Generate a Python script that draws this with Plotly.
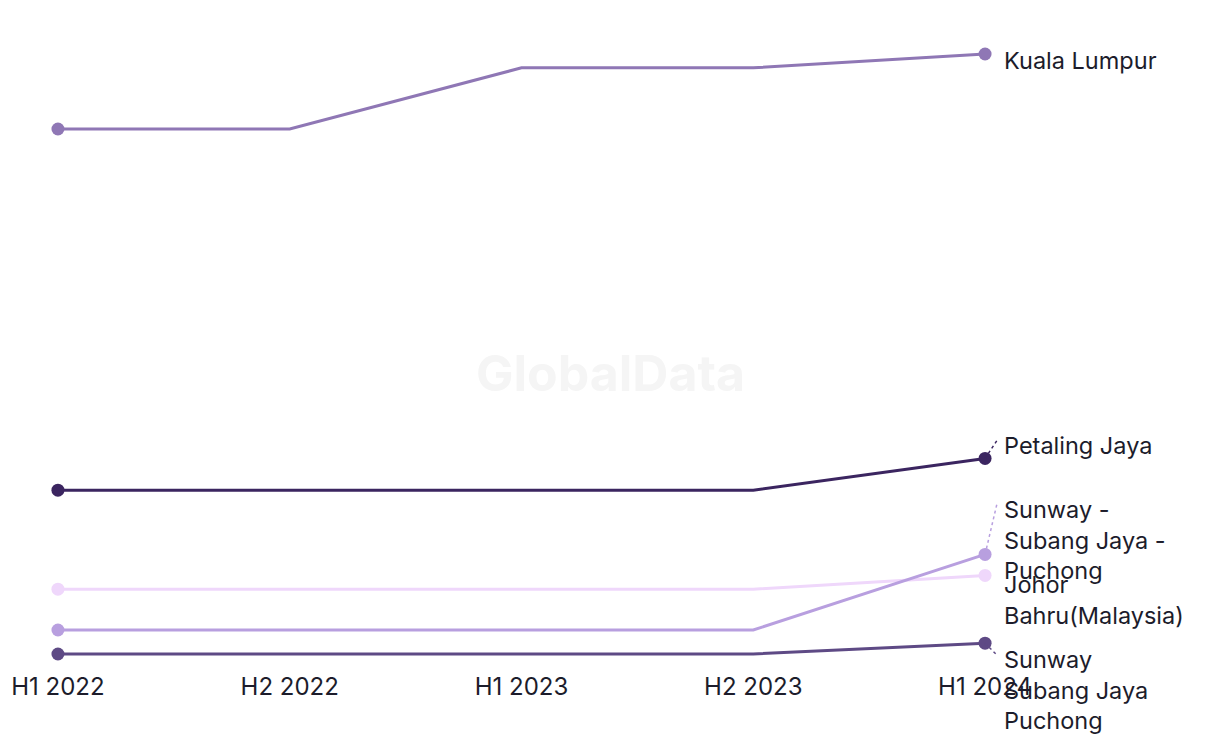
import plotly.graph_objects as go

periods = ["H1 2022", "H2 2022", "H1 2023", "H2 2023", "H1 2024"]

series_names = [
    "Kuala Lumpur",
    "Petaling Jaya",
    "Johor Bahru(Malaysia)",
    "Sunway - Subang Jaya - Puchong",
    "Sunway Subang Jaya Puchong",
]
kuala_lumpur = [91.5, 91.5, 101.7, 101.7, 104.0]
petaling_jaya = [31.3, 31.3, 31.3, 31.3, 36.6]
johor_bahru = [14.8, 14.8, 14.8, 14.8, 17.1]
sunway_dash = [8.0, 8.0, 8.0, 8.0, 20.6]
sunway_plain = [4.0, 4.0, 4.0, 4.0, 5.8]

label_texts = [
    "Kuala Lumpur",
    "Petaling Jaya",
    "Johor<br>Bahru(Malaysia)",
    "Sunway -<br>Subang Jaya -<br>Puchong",
    "Sunway<br>Subang Jaya<br>Puchong",
]

values = [kuala_lumpur, petaling_jaya, johor_bahru, sunway_dash, sunway_plain]
colors = ["#8f77b5", "#3b2560", "#efd7fb", "#b89fdf", "#5e4a85"]
# label offsets in pixels (x, y) and leader line end offsets
label_shift = [(17, -6), (17, 13), (17, -25), (17, 14), (17, -47)]
leaders = [None, (12, 18), None, (12, 51), (12, -12)]

FONT = "Inter, Roboto, sans-serif"

fig = go.Figure()
xs = list(range(len(periods)))
for name, vals, col in zip(series_names, values, colors):
    sizes = [13 if i in (0, len(vals) - 1) else 0 for i in range(len(vals))]
    fig.add_trace(go.Scatter(
        x=xs, y=vals, name=name, mode="lines+markers",
        line=dict(color=col, width=3),
        marker=dict(color=col, size=sizes, opacity=1, line=dict(width=0)),
        showlegend=False, cliponaxis=False,
    ))

fig.add_annotation(
    x=0.585, y=0.457, xref="paper", yref="paper", text="<b>GlobalData</b>",
    showarrow=False, font=dict(family=FONT, size=50, color="#f5f5f5"),
    xanchor="center", yanchor="middle",
)

for vals, txt, (dx, dy), lead, col in zip(values, label_texts, label_shift, leaders, colors):
    fig.add_annotation(
        x=xs[-1], y=vals[-1], text=txt, showarrow=False,
        xanchor="left", yanchor="middle", align="left",
        xshift=dx, yshift=dy,
        font=dict(family=FONT, size=23.5, color="#1c1c2b"),
    )
    if lead is not None:
        fig.add_shape(
            type="line", xref="x", yref="y",
            xsizemode="pixel", ysizemode="pixel",
            xanchor=xs[-1], yanchor=vals[-1],
            x0=0, y0=0, x1=lead[0], y1=lead[1],
            line=dict(color=col, width=1.5, dash="dot"),
        )

fig.update_layout(
    width=1220, height=744,
    margin=dict(l=0, r=177, t=20, b=74),
    plot_bgcolor="white", paper_bgcolor="white",
    xaxis=dict(
        tickmode="array", tickvals=xs, ticktext=periods,
        range=[-0.25, 4.25], showgrid=False, zeroline=False, showline=False,
        tickfont=dict(family=FONT, size=24, color="#1c1c2b"),
        ticks="", fixedrange=True,
    ),
    yaxis=dict(
        range=[1.333, 109.667], visible=False, showgrid=False, zeroline=False,
        fixedrange=True,
    ),
)

fig.write_html("out.html")
